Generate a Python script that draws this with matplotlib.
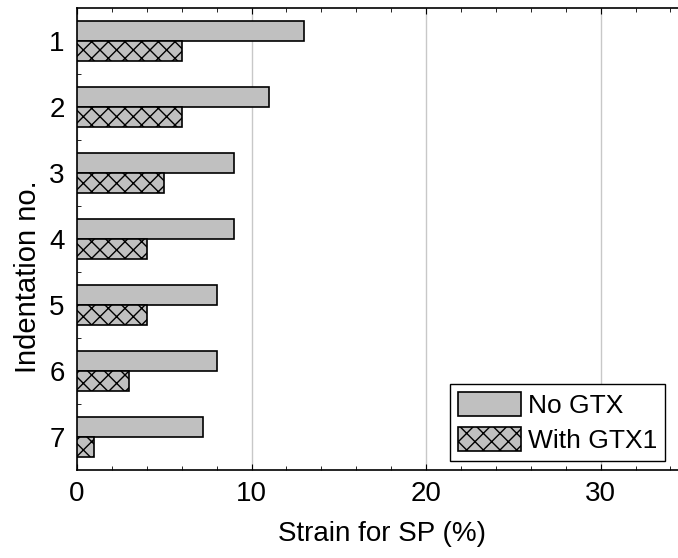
import numpy as np
import matplotlib.pyplot as plt
from matplotlib.ticker import MultipleLocator

plt.rcParams['font.family'] = ['Liberation Sans', 'DejaVu Sans']
plt.rcParams['hatch.linewidth'] = 1.0

indentations = ['1', '2', '3', '4', '5', '6', '7']
no_gtx = [13.0, 11.0, 9.0, 9.0, 8.0, 8.0, 7.2]
with_gtx1 = [6.0, 6.0, 5.0, 4.0, 4.0, 3.0, 1.0]

fig = plt.figure(figsize=(6.78, 5.58), dpi=100)
ax = fig.add_axes([0.1136, 0.1577, 0.901, 0.828])

y = np.arange(1, len(indentations) + 1)
h = 0.3
ax.barh(y - h / 2, no_gtx, height=h, color='#c0c0c0', edgecolor='black',
        linewidth=1.2, label='No GTX', zorder=3)
ax.barh(y + h / 2, with_gtx1, height=h, color='#c0c0c0', edgecolor='black',
        linewidth=1.2, hatch='xx', label='With GTX1', zorder=3)

fs = 20
ax.set_xlim(0, 35)
ax.set_ylim(7.5, 0.5)
ax.set_yticks(y)
ax.set_yticklabels(indentations)
ax.set_yticks(np.arange(1.5, 7.0, 1.0), minor=True)
ax.tick_params(axis='y', which='major', length=0, labelsize=fs, pad=9)
ax.tick_params(axis='y', which='minor', direction='in', length=3, left=True)

ax.set_xticks([0, 10, 20, 30])
ax.xaxis.set_minor_locator(MultipleLocator(2))
ax.tick_params(axis='x', which='both', direction='in', top=True, labelsize=fs, pad=8)
ax.tick_params(axis='x', which='major', length=4)
ax.tick_params(axis='x', which='minor', length=3)

ax.grid(axis='x', which='major', color='#c8c8c8', linewidth=1, zorder=0)
ax.spines['right'].set_visible(False)
for s in ['left', 'bottom', 'top']:
    ax.spines[s].set_linewidth(1.2)

ax.set_xlabel('Strain for SP (%)', fontsize=20)
ax.xaxis.set_label_coords(0.5, -0.11)
ax.set_ylabel('Indentation no.', fontsize=21)
ax.yaxis.set_label_coords(-0.058, 0.418)

leg = ax.legend(loc='lower right', bbox_to_anchor=(0.962, 0.02), fontsize=19,
                fancybox=False, edgecolor='black', framealpha=1,
                handlelength=2.4, handleheight=1.0, borderpad=0.3,
                labelspacing=0.35, handletextpad=0.25, borderaxespad=0)
leg.get_frame().set_linewidth(1.0)

fig.savefig('out.png', dpi=100)
